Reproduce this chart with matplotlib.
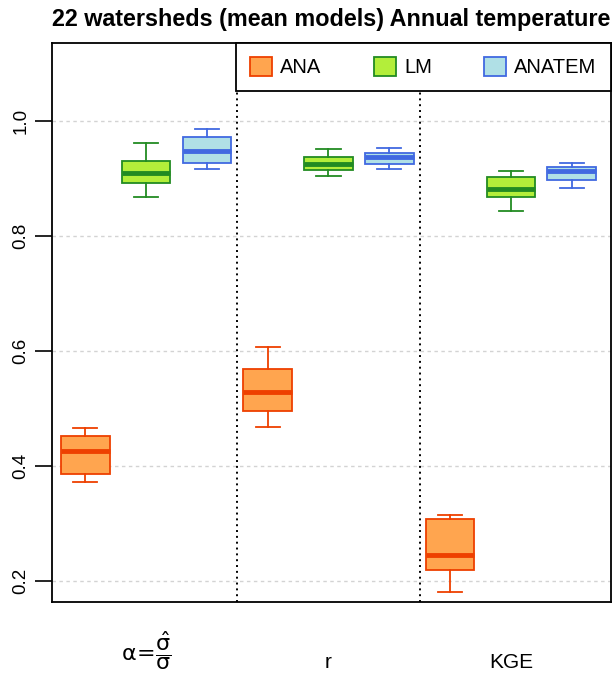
import matplotlib
matplotlib.use("Agg")
import matplotlib.pyplot as plt
from matplotlib.patches import Patch

plt.rcParams['font.family'] = ['Liberation Sans', 'DejaVu Sans']

# five-number summaries over the 22 watersheds, one value per metric (alpha, r, KGE)
ana_lo  = [0.372, 0.467, 0.180]
ana_q1  = [0.385, 0.495, 0.218]
ana_med = [0.426, 0.529, 0.244]
ana_q3  = [0.452, 0.569, 0.308]
ana_hi  = [0.465, 0.606, 0.314]

lm_lo  = [0.868, 0.904, 0.843]
lm_q1  = [0.892, 0.914, 0.868]
lm_med = [0.9085, 0.924, 0.881]
lm_q3  = [0.930, 0.937, 0.902]
lm_hi  = [0.961, 0.950, 0.9125]

anatem_lo  = [0.916, 0.916, 0.883]
anatem_q1  = [0.926, 0.925, 0.897]
anatem_med = [0.948, 0.937, 0.9125]
anatem_q3  = [0.971, 0.943, 0.920]
anatem_hi  = [0.985, 0.953, 0.927]

models = ["ANA", "LM", "ANATEM"]
fills = ["#FFA54F", "#B3EE3A", "#B0E0E6"]
edges = ["#EE4000", "#228B22", "#4169E1"]
metric_labels = [r"$\mathrm{\alpha}\!=\!\dfrac{\hat{\mathrm{\sigma}}}{\mathrm{\sigma}}$", "r", "KGE"]
label_sizes = [16, 15, 15]
yticks = [0.2, 0.4, 0.6, 0.8, 1.0]
title = "22 watersheds (mean models) Annual temperature"

summaries = [
    (ana_lo, ana_q1, ana_med, ana_q3, ana_hi),
    (lm_lo, lm_q1, lm_med, lm_q3, lm_hi),
    (anatem_lo, anatem_q1, anatem_med, anatem_q3, anatem_hi),
]

fig, ax = plt.subplots(figsize=(6.14, 6.76), dpi=100)
fig.subplots_adjust(left=0.0842, right=0.9946, bottom=0.1099, top=0.9371)

n_models = len(models)
for k, (lo, q1, med, q3, hi) in enumerate(summaries):
    stats = []
    for j in range(len(metric_labels)):
        stats.append(dict(whislo=lo[j], q1=q1[j], med=med[j], q3=q3[j],
                          whishi=hi[j], fliers=[]))
    pos = [j * n_models + k + 1 for j in range(len(metric_labels))]
    ax.bxp(stats, positions=pos, widths=0.8, capwidths=0.4,
           patch_artist=True, showfliers=False, manage_ticks=False,
           boxprops=dict(facecolor=fills[k], edgecolor=edges[k], linewidth=1.3),
           whiskerprops=dict(color=edges[k], linewidth=1.3),
           capprops=dict(color=edges[k], linewidth=1.3),
           medianprops=dict(color=edges[k], linewidth=3.5, solid_capstyle='butt'),
           zorder=3)

# dotted separators between metric groups
for j in range(1, len(metric_labels)):
    ax.axvline(j * n_models + 0.5, color='black', linestyle=(0, (1, 2)),
               linewidth=1.4, zorder=2)

ax.set_xlim(0.449, 9.64)
ax.set_ylim(0.1635, 1.136)
ax.set_yticks(yticks)
ax.set_yticklabels([f"{v:.1f}" for v in yticks], rotation=90, va='center')
ax.tick_params(axis='y', length=12, width=1.2, pad=4, labelsize=13.5)
ax.set_xticks([])
ax.grid(axis='y', color='#D3D3D3', linestyle=(0, (2.5, 2.5)), linewidth=1.0)
ax.set_axisbelow(True)
for sp in ax.spines.values():
    sp.set_linewidth(1.3)

xtr = ax.get_xaxis_transform()
for j, lab in enumerate(metric_labels):
    ax.text(j * n_models + 2, -0.126, lab, transform=xtr, ha='center',
            va='bottom', fontsize=label_sizes[j], clip_on=False)

ax.set_title(title, fontsize=16.8, fontweight='bold', pad=12)

handles = [Patch(facecolor=f, edgecolor=e, linewidth=1.3) for f, e in zip(fills, edges)]
leg = ax.legend(handles, models, loc='upper right', bbox_to_anchor=(1, 1),
                ncol=3, fontsize=14.5, borderaxespad=0, borderpad=0.7,
                handlelength=1.09, handleheight=1.09, handletextpad=0.41,
                columnspacing=2.6, fancybox=False, framealpha=1,
                edgecolor='black')
leg.get_frame().set_linewidth(1.3)
leg.set_zorder(5)

fig.savefig("out.png", dpi=100)
